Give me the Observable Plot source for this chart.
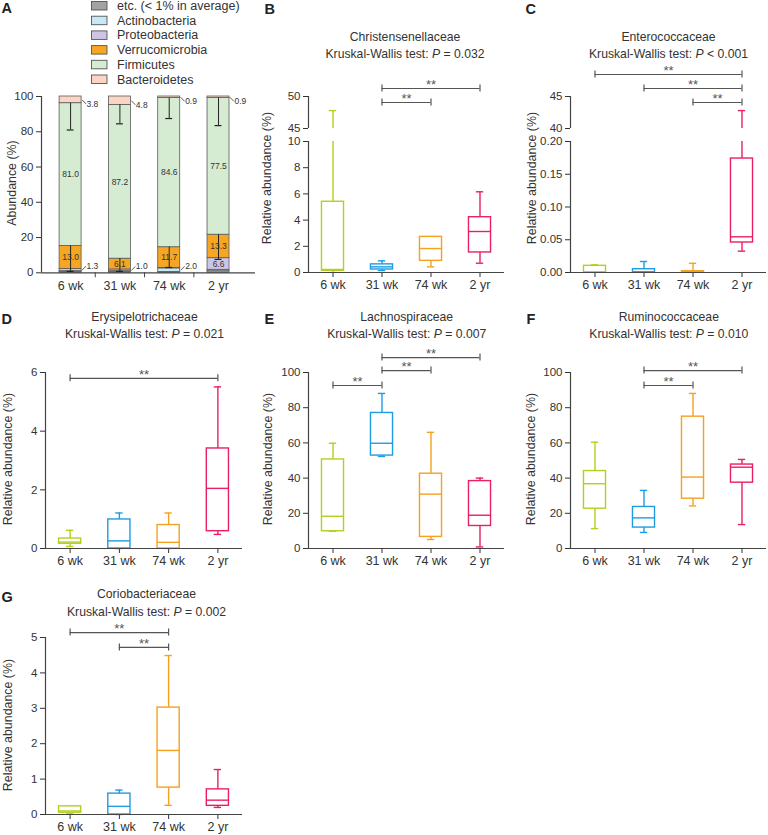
<!DOCTYPE html>
<html>
<head>
<meta charset="utf-8">
<script src="https://cdn.jsdelivr.net/npm/d3@7"></script>
<script src="https://cdn.jsdelivr.net/npm/@observablehq/plot@0.6"></script>
<style>
html,body{margin:0;padding:0;background:#fff;}
#root{position:relative;width:768px;height:835px;overflow:hidden;background:#fff;}
</style>
</head>
<body>
<div id="root"></div>
<script>
// ---------------- data ----------------
const periods = ["6 wk", "31 wk", "74 wk", "2 yr"];
const periodColors = ["#b4cf1e", "#1f9ce0", "#f4a11f", "#ea1f66"];

// Panel A: mean abundance of phyla (%), stacked bottom -> top
const phyla = ["etc. (< 1% in average)", "Actinobacteria", "Proteobacteria", "Verrucomicrobia", "Firmicutes", "Bacteroidetes"];
const phylaColors = ["#a3a3a3", "#c7e8f5", "#cdc5e4", "#f5a623", "#d5ecd2", "#fbd4c3"];
const abundEtc = [0.6, 0.6, 0.5, 0.9];
const abundActino = [0.3, 0.3, 2.0, 0.8];
const abundProteo = [1.3, 1.0, 0.3, 6.6];
const abundVerruco = [13.0, 6.1, 11.7, 13.3];
const abundFirm = [81.0, 87.2, 84.6, 77.5];
const abundBact = [3.8, 4.8, 0.9, 0.9];
const firmErrLow = [81.0, 84.5, 87.5, 83.5];
const verrucoErrLow = [0.8, 0.8, 3.0, 7.6];
const bottomLabelPhylum = ["Proteobacteria", "Proteobacteria", "Actinobacteria", null];
const abundTicks = [0, 20, 40, 60, 80, 100];

// Panels B-G
const families = ["Christensenellaceae", "Enterococcaceae", "Erysipelotrichaceae", "Lachnospiraceae", "Ruminococcaceae", "Coriobacteriaceae"];
const pTexts = ["= 0.032", "< 0.001", "= 0.021", "= 0.007", "= 0.010", "= 0.002"];

// box statistics per period: [min, q1, median, q3, max]
const christensenellaceae = [[0, 0.13, 0.23, 5.4, 47.8], [0.15, 0.23, 0.43, 0.62, 0.89], [0.43, 0.89, 1.83, 2.72, 2.74], [0.71, 1.53, 3.13, 4.22, 6.16]];
const enterococcaceae = [[0, 0, 0.001, 0.0102, 0.0117], [0, 0, 0.001, 0.005, 0.0168], [0, 0, 0.001, 0.002, 0.014], [0.0326, 0.0458, 0.0545, 0.174, 42.8]];
const erysipelotrichaceae = [[0.07, 0.16, 0.22, 0.34, 0.62], [0, 0, 0.26, 0.99, 1.21], [0, 0, 0.21, 0.8, 1.21], [0.48, 0.59, 2.05, 3.41, 5.51]];
const lachnospiraceae = [[9.8, 9.8, 18.3, 50.6, 59.8], [52.3, 52.8, 59.8, 77, 88.1], [5.1, 6.6, 30.9, 42.5, 66], [0.9, 12.8, 18.9, 38.3, 40]];
const ruminococcaceae = [[11.3, 22.6, 36.8, 44, 60.4], [9.1, 11.9, 17.4, 23.6, 33], [24.2, 28.3, 40.6, 74.9, 88.1], [13.6, 37.4, 46.2, 47.7, 50.6]];
const coriobacteriaceae = [[0.02, 0.05, 0.1, 0.23, 0.23], [0, 0, 0.23, 0.59, 0.69], [0.26, 0.76, 1.81, 3.02, 4.49], [0.2, 0.245, 0.405, 0.71, 1.27]];

// significance brackets: [from, to, level]
const bracketsB = [["31 wk", "2 yr", 51.25], ["31 wk", "74 wk", 49.06]];
const bracketsC = [["6 wk", "2 yr", 48.44], ["31 wk", "2 yr", 46.25], ["74 wk", "2 yr", 44.06]];
const bracketsD = [["6 wk", "2 yr", 5.8]];
const bracketsE = [["31 wk", "2 yr", 108.5], ["31 wk", "74 wk", 101.1], ["6 wk", "31 wk", 92.6]];
const bracketsF = [["31 wk", "2 yr", 101.1], ["31 wk", "74 wk", 92.6]];
const bracketsG = [["6 wk", "74 wk", 5.14], ["31 wk", "74 wk", 4.72]];

const ticksBTop = [45, 50], ticksBBottom = [0, 2, 4, 6, 8, 10];
const ticksCTop = [40, 45], ticksCBottom = [0, 0.05, 0.10, 0.15, 0.20];
const ticksD = [0, 2, 4, 6];
const ticksEF = [0, 20, 40, 60, 80, 100];
const ticksG = [0, 1, 2, 3, 4, 5];

// ---------------- rendering ----------------
const FONT = '"Liberation Sans", Arial, Helvetica, sans-serif';
const INK = "#333";
const intFmt = d3.format("d");
const root = document.getElementById("root");

// overlay for letters, titles, axis titles, legend
const ov = d3.select(root).append("svg")
  .attr("width", 768).attr("height", 835)
  .style("position", "absolute").style("left", "0px").style("top", "0px")
  .style("font-family", FONT);

function makePlot(g, opts) {
  const padL = g.padL ?? 40, padR = g.padR ?? 6, padT = g.padT ?? 40, padB = g.padB ?? 30;
  const width = padL + (g.axisEnd - g.axisX) + padR;
  const height = padT + (g.yBot - g.yTop) + padB;
  const svg = Plot.plot({
    width, height,
    marginLeft: padL, marginRight: padR, marginTop: padT, marginBottom: padB,
    style: {background: "none", overflow: "visible", fontFamily: FONT, fontSize: "11.5px", color: INK},
    color: {type: "identity"},
    ...opts
  });
  svg.style.position = "absolute";
  svg.style.left = (g.axisX - padL) + "px";
  svg.style.top = (g.yTop - padT) + "px";
  svg.style.maxWidth = "none";
  svg.querySelectorAll('[aria-label^="x-axis"] text').forEach(t => t.setAttribute("font-size", "12.5"));
  svg.querySelectorAll('[aria-label^="x-axis"]').forEach(t => t.setAttribute("font-size", "12.5"));
  root.appendChild(svg);
  return svg;
}

function boxMarks(stats, clip) {
  const rows = stats.map((s, i) => ({i, min: s[0], q1: s[1], med: s[2], q3: s[3], max: s[4], c: periodColors[i]}));
  const hw = 0.225, cw = 0.075, sw = 1.4;
  return [
    Plot.ruleX(rows, {x: "i", y1: "min", y2: "max", stroke: "c", strokeWidth: sw, clip}),
    Plot.ruleY(rows, {y: "min", x1: d => d.i - cw, x2: d => d.i + cw, stroke: "c", strokeWidth: sw, clip}),
    Plot.ruleY(rows, {y: "max", x1: d => d.i - cw, x2: d => d.i + cw, stroke: "c", strokeWidth: sw, clip}),
    Plot.rect(rows, {x1: d => d.i - hw, x2: d => d.i + hw, y1: "q1", y2: "q3", fill: "white", stroke: "c", strokeWidth: sw, clip}),
    Plot.ruleY(rows, {y: "med", x1: d => d.i - hw, x2: d => d.i + hw, stroke: "c", strokeWidth: sw, clip})
  ];
}

function bracketMarks(brackets) {
  if (!brackets) return [];
  const rows = brackets.map(b => ({a: periods.indexOf(b[0]), b: periods.indexOf(b[1]), y: b[2]}));
  const ends = rows.flatMap(r => [{x: r.a, y: r.y}, {x: r.b, y: r.y}]);
  return [
    Plot.ruleY(rows, {y: "y", x1: "a", x2: "b", stroke: "#555", strokeWidth: 1.2}),
    Plot.ruleX(ends, {x: "x", y1: "y", y2: "y", insetTop: -3.5, insetBottom: -3.5, stroke: "#555", strokeWidth: 1.2}),
    Plot.text(rows, {x: d => (d.a + d.b) / 2, y: "y", text: () => "**", dy: -4, fontSize: 13, fill: "#555"})
  ];
}

function boxPlot(g, {domain, ticks, fmt = intFmt, stats, brackets, showX = true, clip = false}) {
  const xDomain = [-0.5, 3.5];
  return makePlot(g, {
    x: {type: "linear", domain: xDomain, ticks: [0, 1, 2, 3], tickFormat: i => periods[i], tickSize: 5, tickPadding: 3, label: null, axis: showX ? "bottom" : null},
    y: {type: "linear", domain, ticks, tickFormat: fmt, tickSize: 5, tickPadding: 3, label: null},
    marks: [
      ...boxMarks(stats, clip),
      ...bracketMarks(brackets),
      Plot.ruleX([xDomain[0]], {stroke: "#444", strokeWidth: 1.2}),
      ...(showX ? [Plot.ruleY([domain[0]], {stroke: "#444", strokeWidth: 1.2})] : [])
    ]
  });
}

// ---- Panel A ----
{
  const series = [abundEtc, abundActino, abundProteo, abundVerruco, abundFirm, abundBact];
  const segs = [];
  periods.forEach((p, i) => {
    let acc = 0;
    series.forEach((vals, k) => {
      segs.push({i, k, phylum: phyla[k], v: vals[i], y1: acc, y2: acc + vals[i], mid: acc + vals[i] / 2, fill: phylaColors[k]});
      acc += vals[i];
    });
  });
  const hw = 0.223;
  const inside = segs.filter(d => d.v >= 5);
  const topSide = segs.filter(d => d.phylum === "Bacteroidetes");
  const bottomSide = segs.filter(d => d.phylum === bottomLabelPhylum[d.i]);
  const sideRows = [
    ...topSide.map(d => ({x: d.i + hw, y0: d.mid, y: d.mid - 2.3, t: d.v.toFixed(1)})),
    ...bottomSide.map(d => ({x: d.i + hw, y0: d.mid, y: d.mid + 2.2, t: d.v.toFixed(1)}))
  ];
  const errs = [
    ...segs.filter(d => d.phylum === "Firmicutes").map(d => ({i: d.i, hi: d.y2, lo: firmErrLow[d.i]})),
    ...segs.filter(d => d.phylum === "Verrucomicrobia").map(d => ({i: d.i, hi: d.y2, lo: verrucoErrLow[d.i]}))
  ];
  const xDomain = [-0.59, 3.75];
  makePlot({axisX: 41, axisEnd: 255, yTop: 95.7, yBot: 272, padL: 36, padR: 8, padT: 12, padB: 30}, {
    x: {type: "linear", domain: xDomain, ticks: [0, 1, 2, 3], tickFormat: i => periods[i], tickSize: 0, tickPadding: 8, label: null},
    y: {type: "linear", domain: [0, 100], ticks: abundTicks, tickFormat: intFmt, tickSize: 5, tickPadding: 3, label: null},
    marks: [
      Plot.rect(segs, {x1: d => d.i - hw, x2: d => d.i + hw, y1: "y1", y2: "y2", fill: "fill", stroke: "#5a5a5a", strokeWidth: 0.8}),
      Plot.ruleX(errs, {x: "i", y1: "lo", y2: "hi", stroke: "#222", strokeWidth: 1}),
      Plot.ruleY(errs, {y: "lo", x1: d => d.i - 0.07, x2: d => d.i + 0.07, stroke: "#222", strokeWidth: 1.2}),
      Plot.text(inside, {x: "i", y: "mid", text: d => d.v.toFixed(1), fontSize: 8.5, fill: "#333"}),
      Plot.link(sideRows, {x1: d => d.x + 0.01, y1: "y0", x2: d => d.x + 0.09, y2: "y", stroke: "#333", strokeWidth: 0.8}),
      Plot.text(sideRows, {x: d => d.x + 0.1, y: "y", text: "t", textAnchor: "start", fontSize: 8.5, fill: "#333"}),
      Plot.ruleX([0.5, 1.5, 2.5], {x: d => d, y1: 0, y2: 0, insetTop: 0, insetBottom: -5, stroke: "#444", strokeWidth: 1}),
      Plot.ruleX([xDomain[0]], {stroke: "#444", strokeWidth: 1.2}),
      Plot.ruleY([0], {stroke: "#444", strokeWidth: 1.2})
    ]
  });
}

// ---- Panel B (broken axis) ----
boxPlot({axisX: 308, axisEnd: 504, yTop: 96, yBot: 128, padT: 40, padB: 0},
  {domain: [45, 50], ticks: ticksBTop, stats: christensenellaceae, brackets: bracketsB, showX: false, clip: true});
boxPlot({axisX: 308, axisEnd: 504, yTop: 141, yBot: 272, padT: 6, padB: 30},
  {domain: [0, 10], ticks: ticksBBottom, stats: christensenellaceae, clip: true});

// ---- Panel C (broken axis) ----
boxPlot({axisX: 570, axisEnd: 766, yTop: 96, yBot: 128, padT: 40, padB: 0, padR: 2},
  {domain: [40, 45], ticks: ticksCTop, stats: enterococcaceae, brackets: bracketsC, showX: false, clip: true});
boxPlot({axisX: 570, axisEnd: 766, yTop: 141, yBot: 272, padT: 6, padB: 30, padR: 2},
  {domain: [0, 0.2], ticks: ticksCBottom, fmt: d3.format(".2f"), stats: enterococcaceae, clip: true});

// ---- Panels D-G ----
boxPlot({axisX: 45, axisEnd: 242, yTop: 372, yBot: 548}, {domain: [0, 6], ticks: ticksD, stats: erysipelotrichaceae, brackets: bracketsD});
boxPlot({axisX: 308, axisEnd: 504, yTop: 372, yBot: 548}, {domain: [0, 100], ticks: ticksEF, stats: lachnospiraceae, brackets: bracketsE});
boxPlot({axisX: 570, axisEnd: 766, yTop: 372, yBot: 548, padR: 2}, {domain: [0, 100], ticks: ticksEF, stats: ruminococcaceae, brackets: bracketsF});
boxPlot({axisX: 45, axisEnd: 242, yTop: 637, yBot: 814}, {domain: [0, 5], ticks: ticksG, stats: coriobacteriaceae, brackets: bracketsG});

// ---- annotations ----
const letters = [["A", 1.5, 13.2], ["B", 264.5, 13.8], ["C", 525.5, 13.8], ["D", 1.5, 323.8], ["E", 264.5, 323.8], ["F", 526.5, 323.8], ["G", 1.5, 602.2]];
ov.selectAll("text.letter").data(letters).join("text").attr("class", "letter")
  .attr("x", d => d[1]).attr("y", d => d[2]).attr("font-size", 14.5).attr("font-weight", "bold").attr("fill", "#222").text(d => d[0]);

const titlePos = [[405, 36.7, 54.3], [668.5, 36.7, 53.5], [144.5, 316.7, 333.5], [406.7, 316.7, 333.5], [668.8, 316.7, 333.5], [146.5, 594, 611.7]];
families.forEach((f, k) => {
  const [x, y1, y2] = titlePos[k];
  ov.append("text").attr("x", x).attr("y", y1).attr("text-anchor", "middle").attr("dominant-baseline", "central")
    .attr("font-size", 12.2).attr("fill", INK).text(f);
  const t = ov.append("text").attr("x", x).attr("y", y2).attr("text-anchor", "middle").attr("dominant-baseline", "central")
    .attr("font-size", 12.2).attr("fill", INK);
  t.append("tspan").text("Kruskal-Wallis test: ");
  t.append("tspan").attr("font-style", "italic").text("P");
  t.append("tspan").text(" " + pTexts[k]);
});

const ylabels = [["Abundance (%)", 12, 183], ["Relative abundance (%)", 267.3, 178], ["Relative abundance (%)", 531.5, 178],
  ["Relative abundance (%)", 7.5, 459], ["Relative abundance (%)", 268.3, 459], ["Relative abundance (%)", 531, 459], ["Relative abundance (%)", 7.5, 725]];
ylabels.forEach(([s, x, y]) => {
  ov.append("text").attr("transform", `translate(${x},${y}) rotate(-90)`).attr("text-anchor", "middle")
    .attr("dominant-baseline", "central").attr("font-size", 12.4).attr("fill", INK).text(s);
});

// legend for panel A
phyla.forEach((p, k) => {
  const cy = 6 + 14.7 * k;
  ov.append("rect").attr("x", 91.5).attr("y", cy - 4.5).attr("width", 15.5).attr("height", 8.5)
    .attr("fill", phylaColors[k]).attr("stroke", "#555").attr("stroke-width", 0.9);
  ov.append("text").attr("x", 117).attr("y", cy).attr("dominant-baseline", "central")
    .attr("font-size", 12.5).attr("fill", INK).text(p);
});
</script>
</body>
</html>
